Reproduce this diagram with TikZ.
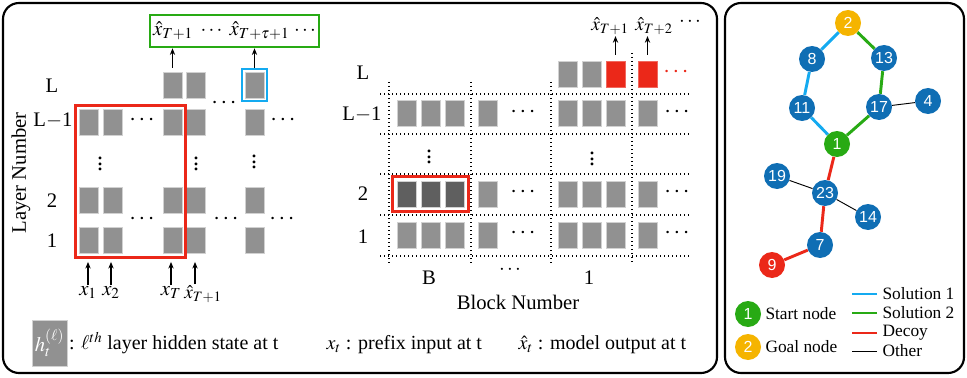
\documentclass[tikz,border=0pt]{standalone}
\usepackage{mathptmx}
\usepackage{fontspec}
\setmainfont{Liberation Serif}
\newfontfamily\graphfont{Liberation Sans}
\usetikzlibrary{arrows.meta, positioning, fit, calc}
\definecolor{cellgray}{RGB}{145,145,145}
\definecolor{celldark}{RGB}{95,95,95}
\definecolor{boxred}{RGB}{235,40,25}
\definecolor{boxgreen}{RGB}{40,170,20}
\definecolor{boxblue}{RGB}{20,170,240}
\definecolor{nodeblue}{RGB}{15,110,180}
\definecolor{goalorange}{RGB}{245,180,0}

\tikzset{
  cell/.style={draw=black!18, line width=0.6pt, fill=cellgray, minimum width=14.25pt, minimum height=19.5pt, inner sep=0pt},
  darkcell/.style={cell, fill=celldark},
  redcell/.style={cell, fill=boxred, draw=boxred!70},
  hl/.style={draw=#1, line width=2pt, inner sep=2.5pt},
  arr/.style={-{Stealth[length=5pt, width=4pt]}, line width=0.9pt},
  gridline/.style={line width=0.9pt, dash pattern=on 1.1pt off 1.9pt},
  lbl/.style={font=\fontsize{15.5}{18}\selectfont},
  outlbl/.style={font=\fontsize{14.5}{16}\selectfont, inner sep=1pt},
  dots/.style={font=\fontsize{18}{20}\selectfont, inner sep=0pt},
  leg/.style={font=\fontsize{15}{18}\selectfont, inner sep=1pt},
  key/.style={font=\fontsize{13}{15}\selectfont, inner sep=1pt},
  frame/.style={line width=1.6pt, rounded corners=12pt},
  vert/.style={circle, fill=nodeblue, text=white, minimum size=19.5pt, inner sep=0pt, font=\graphfont\fontsize{12}{14}\selectfont},
  solone/.style={boxblue, line width=2.2pt},
  soltwo/.style={boxgreen, line width=2.2pt},
  decoy/.style={boxred, line width=2.2pt},
  other/.style={black, line width=0.7pt}
}

\begin{document}
\begin{tikzpicture}[x=0.75pt, y=-0.75pt]
  \useasboundingbox (0,0) rectangle (967,378);

  % Panel frames
  \draw[frame] (3,3) rectangle (717,373);
  \draw[frame] (725,3) rectangle (964,373);

  % Left panel: hidden states, layer L
  \node[cell] (l-4-3) at (172.5,85) {};
  \node[cell] (l-4-4) at (195.5,85) {};
  \node[cell] (l-4-5) at (254.5,85) {};

  % Layer L-1
  \node[cell] (l-3-1) at (89,122) {};
  \node[cell] (l-3-2) at (113,122) {};
  \node[cell] (l-3-3) at (172.5,122) {};
  \node[cell] (l-3-4) at (195.5,122) {};
  \node[cell] (l-3-5) at (254.5,122) {};

  % Layer 2
  \node[cell] (l-2-1) at (89,200.5) {};
  \node[cell] (l-2-2) at (113,200.5) {};
  \node[cell] (l-2-3) at (172.5,200.5) {};
  \node[cell] (l-2-4) at (195.5,200.5) {};
  \node[cell] (l-2-5) at (254.5,200.5) {};

  % Layer 1
  \node[cell] (l-1-1) at (89,240.5) {};
  \node[cell] (l-1-2) at (113,240.5) {};
  \node[cell] (l-1-3) at (172.5,240.5) {};
  \node[cell] (l-1-4) at (195.5,240.5) {};
  \node[cell] (l-1-5) at (254.5,240.5) {};

  % Dots
  \node[dots] at (224,103) {$\cdots$};
  \node[dots] at (142,120) {$\cdots$};
  \node[dots] at (283,120) {$\cdots$};
  \node[dots] at (142,219) {$\cdots$};
  \node[dots] at (226,219) {$\cdots$};
  \node[dots] at (282,219) {$\cdots$};
  \node[dots] at (100,160) {$\vdots$};
  \node[dots] at (196,160) {$\vdots$};
  \node[dots] at (254,158) {$\vdots$};

  % Highlight boxes
  \node[hl=boxred, fit=(l-3-1)(l-1-3)] (prefix) {};
  \node[hl=boxblue, inner sep=2pt, fit=(l-4-5)] (sel) {};
  \node[hl=boxgreen, lbl, minimum width=124pt, minimum height=24pt] (outs) at (234.5,31)
    {$\hat{x}_{T+1}\ \cdots\ \hat{x}_{T+\tau+1}\,\cdots$};
  \draw[arr] ([yshift=3pt]l-4-3.north) -- (l-4-3.north |- outs.south);
  \draw[arr] (sel.north) -- (sel.north |- outs.south);

  % Inputs
  \node[lbl, anchor=north, inner sep=1pt] (in1) at (88,285) {$x_1$};
  \node[lbl, anchor=north, inner sep=1pt] (in2) at (111,285) {$x_2$};
  \node[lbl, anchor=north, inner sep=1pt] (inT) at (171,285) {$x_T$};
  \node[outlbl, anchor=north] (inT1) at (203,284) {$\hat{x}_{T+1}$};
  \draw[arr, shorten >=6pt] (in1.north) -- (in1.north |- l-1-1.south);
  \draw[arr, shorten >=6pt] (in2.north) -- (in2.north |- l-1-2.south);
  \draw[arr, shorten >=6pt] (inT.north) -- (inT.north |- l-1-3.south);
  \draw[arr, shorten >=6pt] ([xshift=-6pt]inT1.north) -- ([xshift=-6pt]inT1.north |- l-1-4.south);

  % Layer labels
  \node[lbl] at (52,86) {L};
  \node[lbl] at (53,121) {L$-$1};
  \node[lbl] at (52,201) {2};
  \node[lbl] at (52,241) {1};
  \node[lbl, rotate=90] at (21,173) {Layer Number};

  % Middle panel: block grid
  \draw[gridline] (380,94) -- (690,94);
  \draw[gridline] (380,134) -- (690,134);
  \draw[gridline] (380,174) -- (690,174);
  \draw[gridline] (380,215) -- (690,215);
  \draw[gridline] (380,256) -- (690,256);
  \draw[gridline] (389,82) -- (389,263);
  \draw[gridline] (471,82) -- (471,263);
  \draw[gridline] (551,82) -- (551,263);
  \draw[gridline] (632,53) -- (632,263);

  % Layer L
  \node[cell] (m-4-5) at (567.5,74) {};
  \node[cell] (m-4-6) at (591.5,74) {};
  \node[redcell] (m-4-7) at (615.5,74) {};
  \node[redcell] (m-4-8) at (647.5,74) {};

  % Layer L-1
  \node[cell] (m-3-1) at (406.5,113.5) {};
  \node[cell] (m-3-2) at (430.5,113.5) {};
  \node[cell] (m-3-3) at (454.5,113.5) {};
  \node[cell] (m-3-4) at (487.5,113.5) {};
  \node[cell] (m-3-5) at (567.5,113.5) {};
  \node[cell] (m-3-6) at (591.5,113.5) {};
  \node[cell] (m-3-7) at (615.5,113.5) {};
  \node[cell] (m-3-8) at (647.5,113.5) {};

  % Layer 2
  \node[darkcell] (m-2-1) at (406.5,194) {};
  \node[darkcell] (m-2-2) at (430.5,194) {};
  \node[darkcell] (m-2-3) at (454.5,194) {};
  \node[cell] (m-2-4) at (487.5,194) {};
  \node[cell] (m-2-5) at (567.5,194) {};
  \node[cell] (m-2-6) at (591.5,194) {};
  \node[cell] (m-2-7) at (615.5,194) {};
  \node[cell] (m-2-8) at (647.5,194) {};

  % Layer 1
  \node[cell] (m-1-1) at (406.5,235) {};
  \node[cell] (m-1-2) at (430.5,235) {};
  \node[cell] (m-1-3) at (454.5,235) {};
  \node[cell] (m-1-4) at (487.5,235) {};
  \node[cell] (m-1-5) at (567.5,235) {};
  \node[cell] (m-1-6) at (591.5,235) {};
  \node[cell] (m-1-7) at (615.5,235) {};
  \node[cell] (m-1-8) at (647.5,235) {};

  \node[hl=boxred, inner sep=3pt, fit=(m-2-1)(m-2-3)] (block) {};

  % Dots
  \node[dots, boxred] at (676,72) {$\cdots$};
  \node[dots] at (523,112) {$\cdots$};
  \node[dots] at (677,112) {$\cdots$};
  \node[dots] at (523,192) {$\cdots$};
  \node[dots] at (677,192) {$\cdots$};
  \node[dots] at (523,233) {$\cdots$};
  \node[dots] at (677,233) {$\cdots$};
  \node[dots] at (429,153) {$\vdots$};
  \node[dots] at (592,155) {$\vdots$};

  % Outputs
  \node[outlbl] (o1) at (610,26) {$\hat{x}_{T+1}$};
  \node[outlbl] (o2) at (654,26) {$\hat{x}_{T+2}$};
  \node[lbl, inner sep=0pt] at (690,22) {$\cdots$};
  \draw[arr] ([yshift=4.5pt]m-4-7.north) -- (m-4-7.north |- o1.south);
  \draw[arr] ([yshift=4.5pt]m-4-8.north) -- (m-4-8.north |- o2.south);

  % Labels
  \node[lbl] at (363,73) {L};
  \node[lbl] at (362,115) {L$-$1};
  \node[lbl] at (363,194) {2};
  \node[lbl] at (363,237) {1};
  \node[lbl] at (429,278) {B};
  \node[lbl, inner sep=0pt] at (510,270) {$\cdots$};
  \node[lbl] at (589,278) {1};
  \node[lbl] at (518,302) {Block Number};

  % Legend
  \node[cell, minimum width=26.25pt, minimum height=34.5pt, text=white, lbl] (hkey) at (49.5,343) {$h_t^{(\ell)}$};
  \node[leg, right=0pt of hkey] {: $\ell^{th}$ layer hidden state at t};
  \node[leg, anchor=west] at (325,345) {$x_t$ : prefix input at t};
  \node[leg, anchor=west] at (517,345) {$\hat{x}_t$ : model output at t};

  % Right panel: graph
  \node[vert, fill=goalorange] (n2) at (848,23) {2};
  \node[vert] (n8) at (812,59) {8};
  \node[vert] (n13) at (884,58) {13};
  \node[vert] (n11) at (802,108) {11};
  \node[vert] (n17) at (879,107) {17};
  \node[vert] (n4) at (928,101) {4};
  \node[vert, fill=boxgreen] (n1) at (837,144) {1};
  \node[vert] (n19) at (777,176) {19};
  \node[vert] (n23) at (825,193) {23};
  \node[vert] (n14) at (868,217) {14};
  \node[vert] (n7) at (820,245) {7};
  \node[vert, fill=boxred] (n9) at (772,265) {9};

  \draw[solone] (n2) -- (n8) -- (n11) -- (n1);
  \draw[soltwo] (n2) -- (n13) -- (n17) -- (n1);
  \draw[decoy] (n1) -- (n23) -- (n7) -- (n9);
  \draw[other] (n17) -- (n4);
  \draw[other] (n19) -- (n23) -- (n14);

  % Graph legend
  \node[vert, fill=boxgreen] (kstart) at (748,314) {1};
  \node[key, right=2pt of kstart] {Start node};
  \node[vert, fill=goalorange] (kgoal) at (748,347) {2};
  \node[key, right=2pt of kgoal] {Goal node};
  \node[key, anchor=west] (ks1) at (881,294) {Solution 1};
  \node[key, anchor=west] (ks2) at (881,313) {Solution 2};
  \node[key, anchor=west] (kdc) at (881,333) {Decoy};
  \node[key, anchor=west] (kot) at (881,351) {Other};
  \draw[solone] ([xshift=-3pt]ks1.west) -- ++(-19pt,0);
  \draw[soltwo] ([xshift=-3pt]ks2.west) -- ++(-19pt,0);
  \draw[decoy] ([xshift=-3pt]kdc.west) -- ++(-19pt,0);
  \draw[other] ([xshift=-3pt]kot.west) -- ++(-19pt,0);
\end{tikzpicture}
\end{document}
